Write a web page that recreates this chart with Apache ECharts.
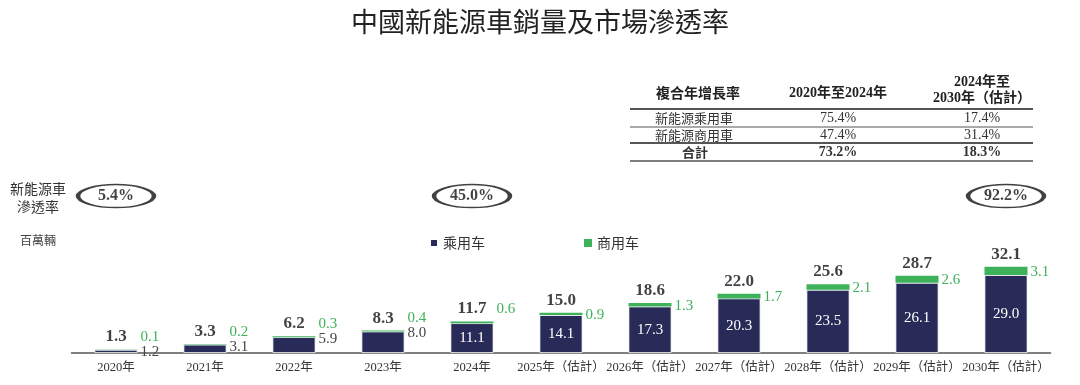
<!DOCTYPE html>
<html>
<head>
<meta charset="utf-8">
<script src="https://cdn.jsdelivr.net/npm/echarts@6/dist/echarts.min.js"></script>
<style>
html,body{margin:0;padding:0;background:#fff;}
#main{width:1080px;height:385px;}
</style>
</head>
<body>
<div id="main"></div>
<script>
// ---------- DATA ----------
const categories = ['2020年','2021年','2022年','2023年','2024年','2025年（估計）','2026年（估計）','2027年（估計）','2028年（估計）','2029年（估計）','2030年（估計）'];
const passenger = [1.2, 3.1, 5.9, 8.0, 11.1, 14.1, 17.3, 20.3, 23.5, 26.1, 29.0];
const commercial = [0.1, 0.2, 0.3, 0.4, 0.6, 0.9, 1.3, 1.7, 2.1, 2.6, 3.1];
const totals = [1.3, 3.3, 6.2, 8.3, 11.7, 15.0, 18.6, 22.0, 25.6, 28.7, 32.1];
const penetration = ['5.4%', null, null, null, '45.0%', null, null, null, null, null, '92.2%'];
const seriesNames = ['乘用车', '商用车'];

const tableHeader = ['複合年增長率', '2020年至2024年', '2024年至\n2030年（估計）'];
const tableRowNames = ['新能源乘用車', '新能源商用車', '合計'];
const cagr2020to2024 = ['75.4%', '47.4%', '73.2%'];
const cagr2024to2030 = ['17.4%', '31.4%', '18.3%'];

// ---------- STYLE / LAYOUT ----------
const NAVY = '#282b58';
const GREEN = '#3db25a';
const SERIF = '"Liberation Serif","Noto Sans CJK TC",serif';
const CJK = '"Noto Sans CJK TC","Noto Sans",sans-serif';
const ELLIPSE_Y = 58.4;

const chart = echarts.init(document.getElementById('main'));

const passengerData = passenger.map(v => {
  if (v >= 10) {
    return { value: v, label: { position: 'inside', color: '#ffffff' } };
  }
  return { value: v, label: { position: ['100%', 0], align: 'left', verticalAlign: 'middle', offset: [3, 2], color: '#444' } };
});
const commercialData = commercial.map(v => {
  if (v < 0.8) {
    return { value: v, label: { position: ['100%', 0], align: 'left', verticalAlign: 'middle', offset: [3, -12] } };
  }
  return { value: v, label: { position: 'right', distance: 3, offset: [0, 1] } };
});

// table graphics
const graphics = [];
const colX = [698, 838, 982];
const rowY = [118, 135, 152];
graphics.push({ type: 'text', left: colX[0] - 42, top: 86, style: { text: tableHeader[0], font: 'bold 14px ' + CJK, fill: '#222' } });
graphics.push({ type: 'text', x: colX[1], y: 93, style: { text: tableHeader[1], font: 'bold 14px ' + SERIF, fill: '#222', textAlign: 'center', textVerticalAlign: 'middle' } });
graphics.push({ type: 'text', x: colX[2], y: 90, style: { text: tableHeader[2], font: 'bold 14px ' + SERIF, fill: '#222', textAlign: 'center', textVerticalAlign: 'middle', lineHeight: 16 } });
tableRowNames.forEach((name, i) => {
  const isTotal = i === tableRowNames.length - 1;
  graphics.push({ type: 'text', x: isTotal ? 695 : 655, y: rowY[i], style: { text: name, font: (isTotal ? 'bold ' : '') + '13px ' + CJK, fill: '#333', textAlign: isTotal ? 'center' : 'left', textVerticalAlign: 'middle' } });
  graphics.push({ type: 'text', x: colX[1], y: rowY[i], style: { text: cagr2020to2024[i], font: (isTotal ? 'bold ' : '') + '14px ' + SERIF, fill: '#333', textAlign: 'center', textVerticalAlign: 'middle' } });
  graphics.push({ type: 'text', x: colX[2], y: rowY[i], style: { text: cagr2024to2030[i], font: (isTotal ? 'bold ' : '') + '14px ' + SERIF, fill: '#333', textAlign: 'center', textVerticalAlign: 'middle' } });
});
[[109, 2], [127, 1], [143, 2], [161, 1.5]].forEach(([y, w]) => {
  graphics.push({ type: 'line', shape: { x1: 630, y1: y, x2: 1033, y2: y }, style: { stroke: '#555', lineWidth: w } });
});
// left side texts
graphics.push({ type: 'text', x: 38, y: 198, style: { text: '新能源車\n滲透率', font: '14px ' + CJK, fill: '#333', textAlign: 'center', textVerticalAlign: 'middle', lineHeight: 18 } });
graphics.push({ type: 'text', x: 38, y: 240, style: { text: '百萬輛', font: '12px ' + CJK, fill: '#444', textAlign: 'center', textVerticalAlign: 'middle' } });

const option = {
  backgroundColor: '#ffffff',
  animation: false,
  title: {
    text: '中國新能源車銷量及市場滲透率',
    left: 'center', top: 3,
    textStyle: { fontFamily: CJK, fontSize: 27, fontWeight: 'normal', color: '#222' }
  },
  legend: {
    data: seriesNames,
    left: 424, top: 231,
    icon: 'rect', itemWidth: 8, itemHeight: 8, itemGap: 99,
    textStyle: { fontFamily: '"Noto Sans CJK SC",sans-serif', fontSize: 14, color: '#333' }
  },
  grid: { left: 71.5, right: 29.5, top: 185, bottom: 32 },
  xAxis: {
    type: 'category',
    data: categories,
    axisTick: { show: false },
    axisLine: { lineStyle: { color: '#555', width: 1.5 } },
    axisLabel: { interval: 0, margin: 8, fontFamily: SERIF, fontSize: 12.5, color: '#333' }
  },
  yAxis: { type: 'value', min: 0, max: 62.5, show: false, splitLine: { show: false } },
  graphic: graphics,
  series: [
    {
      name: seriesNames[0], type: 'bar', stack: 'sales', barWidth: 43,
      itemStyle: { color: NAVY, borderColor: '#ffffff', borderWidth: 0.8 },
      label: { show: true, fontFamily: SERIF, fontSize: 15, formatter: p => p.value.toFixed(1) },
      data: passengerData
    },
    {
      name: seriesNames[1], type: 'bar', stack: 'sales', barWidth: 43,
      itemStyle: { color: GREEN },
      label: { show: true, fontFamily: SERIF, fontSize: 15, color: GREEN, formatter: p => p.value.toFixed(1) },
      data: commercialData
    },
    {
      name: 'total', type: 'scatter', symbolSize: 0, silent: true,
      label: { show: true, position: 'top', distance: 4, fontFamily: SERIF, fontSize: 17, fontWeight: 'bold', color: '#111', formatter: p => totals[p.dataIndex].toFixed(1) },
      data: totals
    },
    {
      name: 'rate', type: 'scatter', silent: true, clip: false,
      symbol: 'circle', symbolSize: [76, 23],
      itemStyle: { color: '#ffffff', borderColor: '#111', borderWidth: 2.5 },
      label: { show: true, position: 'inside', fontFamily: SERIF, fontSize: 16, fontWeight: 'bold', color: '#111', formatter: p => penetration[p.value[0]] },
      data: penetration.map((p, i) => p ? [i, ELLIPSE_Y] : null).filter(d => d)
    }
  ]
};
chart.setOption(option);
</script>
</body>
</html>
